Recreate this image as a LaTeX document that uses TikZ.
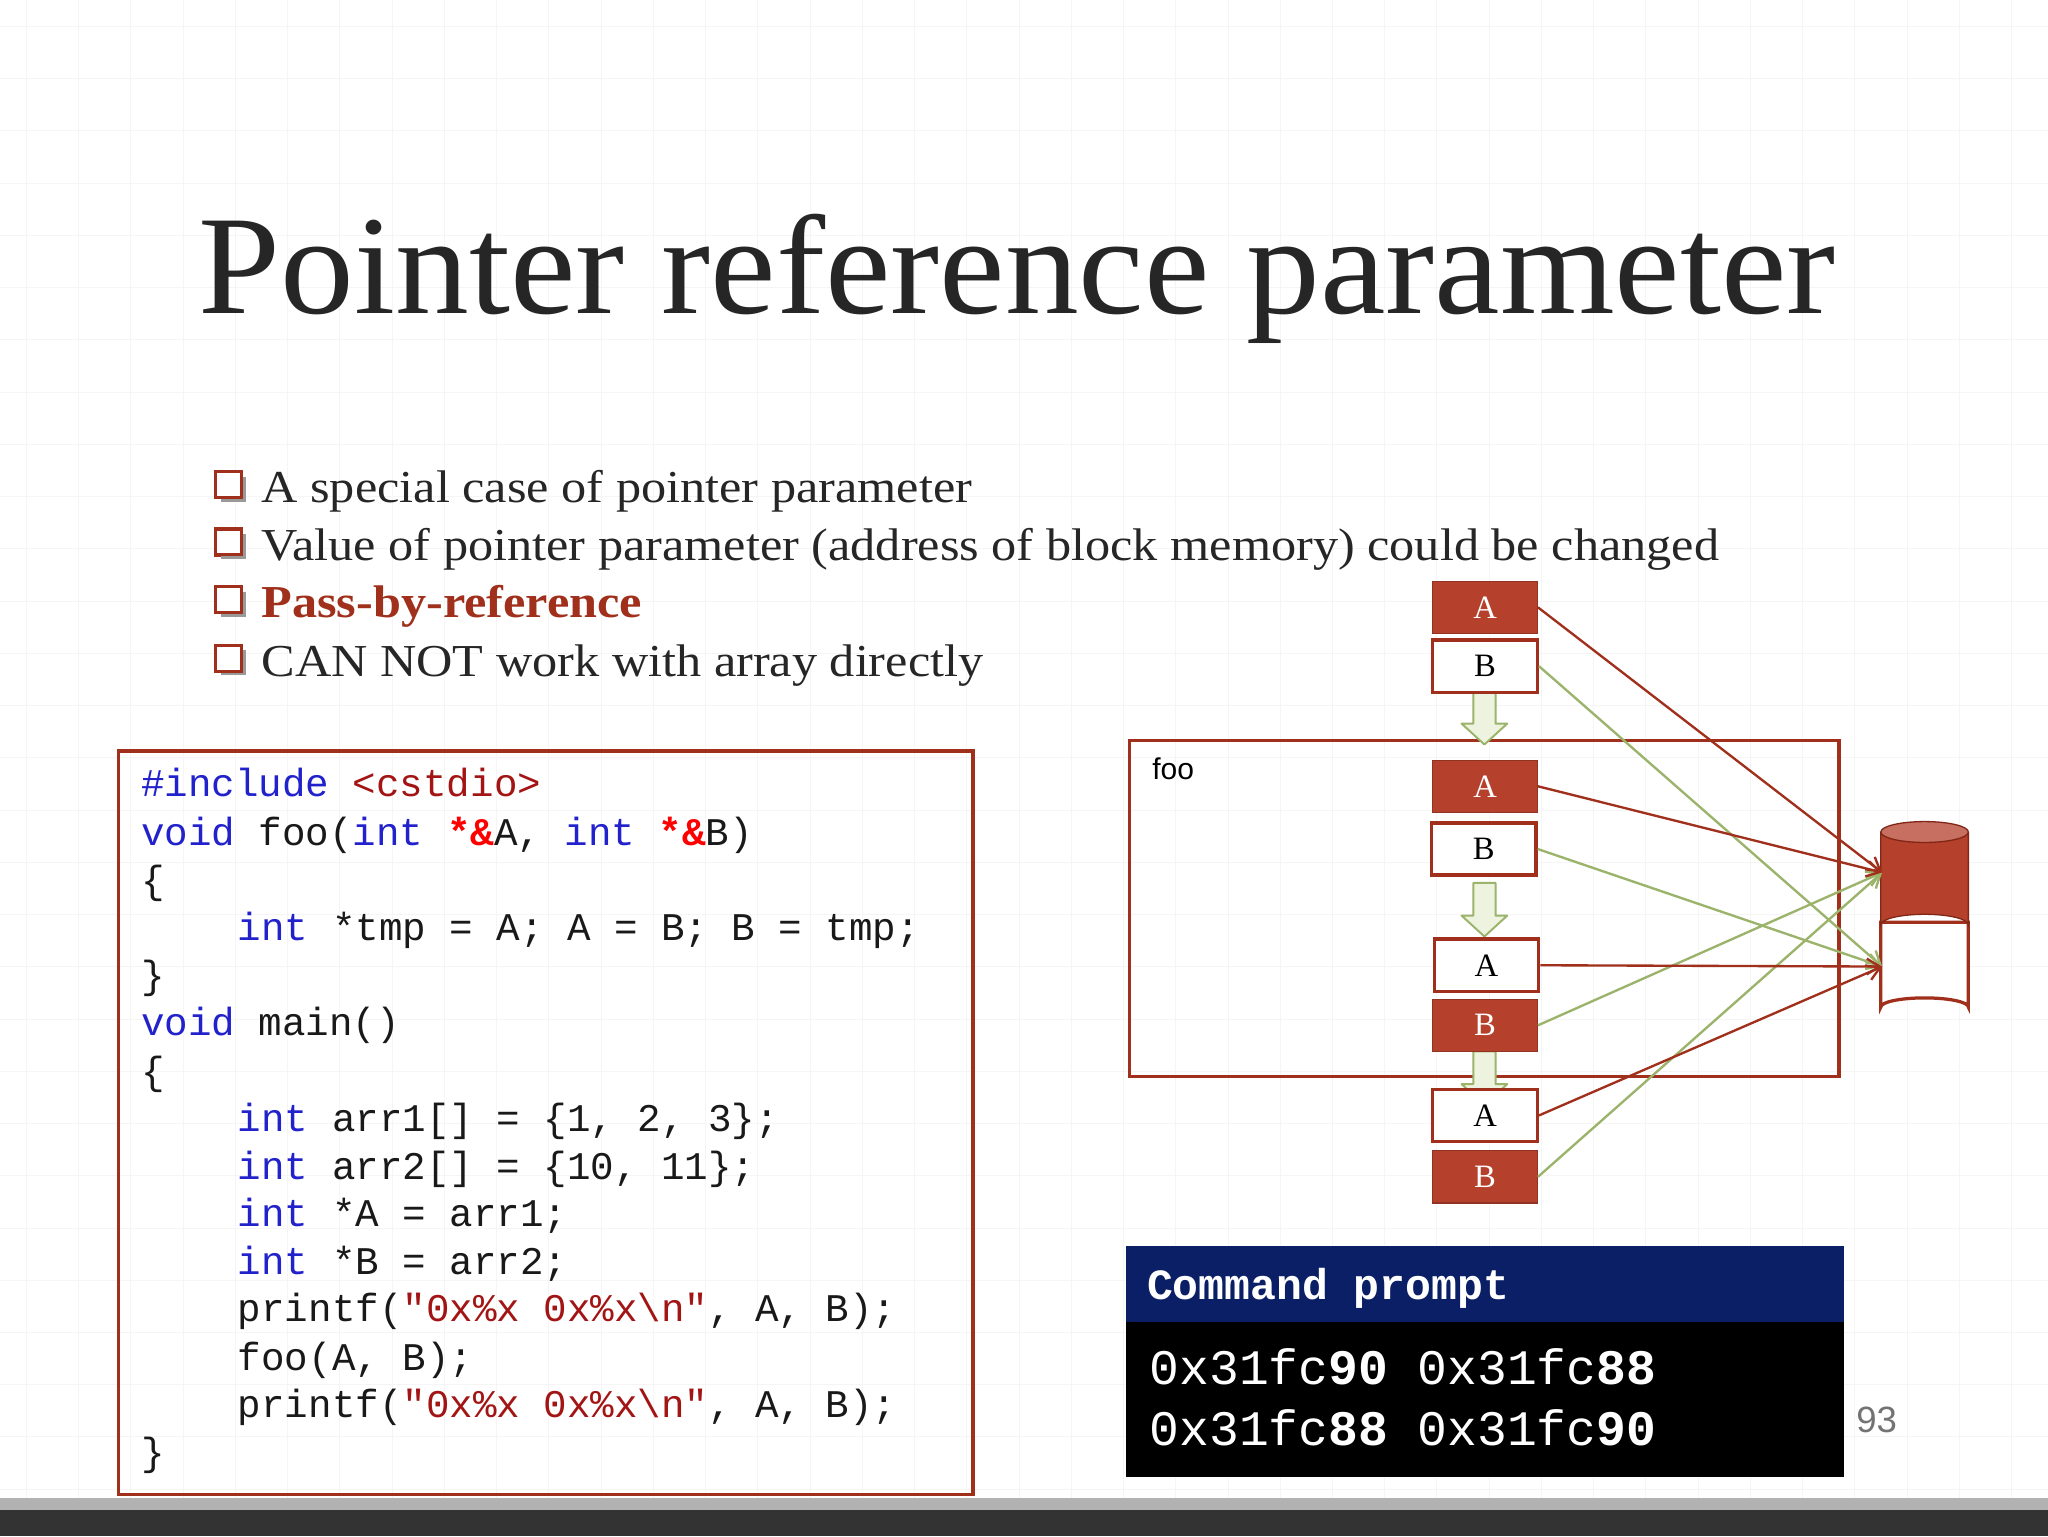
\documentclass[tikz,border=0pt]{standalone}
\usepackage{fontspec}
\setmainfont{Liberation Serif}
\newfontfamily\codefont{Liberation Mono}
\newfontfamily\sansf{Liberation Sans}
\usetikzlibrary{arrows.meta}
\definecolor{dred}{HTML}{A0301C}
\definecolor{bred}{HTML}{B5402C}
\definecolor{kwblue}{HTML}{2222CC}
\definecolor{strred}{HTML}{A31515}
\definecolor{gline}{HTML}{9BB36A}
\definecolor{gfill}{HTML}{EEF3DF}
\definecolor{navy}{HTML}{0B1F66}
\newcommand{\ckw}[1]{\textcolor{kwblue}{#1}}
\newcommand{\cstr}[1]{\textcolor{strred}{#1}}
\newcommand{\cred}[1]{\textcolor{red}{\bfseries #1}}
\newcommand{\wid}[1]{\scalebox{1.1}[1]{#1}}
\begin{document}
\begin{tikzpicture}[x=1pt,y=-1pt,
  code/.style={anchor=base west,inner sep=0pt,font=\codefont\fontsize{30}{31}\selectfont,text=black!90},
  bul/.style={anchor=base west,inner sep=0pt,font=\fontsize{35}{40}\selectfont,text=black!85},
  memw/.style={draw=dred,line width=2.5pt,fill=white,minimum width=80pt,minimum height=40pt,inner sep=0pt,font=\fontsize{25}{26}\selectfont},
  memr/.style={memw,fill=bred,draw=bred!80!black,line width=1pt,text=white},
  redarr/.style={draw=dred,line width=1.8pt,-{Straight Barb[length=10pt,width=12pt]}},
  grnarr/.style={draw=gline,line width=1.8pt,-{Straight Barb[length=10pt,width=12pt]}},
  barrow/.style={draw=gline,fill=gfill,line width=1.5pt,line join=round}]
\useasboundingbox (0,0) rectangle (1568,1176);
\fill[white] (0,0) rectangle (1568,1176);
\foreach \x in {20,60,...,1560} \draw[black!4] (\x,0) -- (\x,1150);
\foreach \y in {20,60,...,1150} \draw[black!4] (0,\y) -- (1568,\y);
\fill[black!30] (0,1147) rectangle (1568,1156);
\fill[black!80] (0,1156) rectangle (1568,1176);
% title
\node[anchor=base west,inner sep=0pt,font=\fontsize{108}{110}\selectfont,text=black!85] (title) at (152,240) {\scalebox{1.045}[1]{Pointer reference parameter}};
% bullets
\foreach \yy in {385,429,473,518}{
  \draw[dred,line width=2.5pt,fill=white] (165,\yy-24) rectangle (185,\yy-4);
  \draw[black!40,line width=2pt] (187,\yy-20) -- (187,\yy-2) -- (169,\yy-2);
}
\node[bul] (t1) at (200,385) {\wid{A special case of pointer parameter}};
\node[bul] (t2) at (200,429) {\wid{Value of pointer parameter (address of block memory) could be changed}};
\node[bul,text=dred,font=\bfseries\fontsize{35}{40}\selectfont] (t3) at (200,473) {\wid{Pass-by-reference}};
\node[bul] (t4) at (200,518) {\wid{CAN NOT work with array directly}};
% code box
\draw[dred,line width=2.5pt] (91,575) rectangle (745,1144);
\node[code] (c1) at (108,610) {\ckw{\#include} \cstr{<cstdio>}};
\node[code] (c2) at (108,647) {\ckw{void} foo(\ckw{int} \cred{*\&}A, \ckw{int} \cred{*\&}B)};
\node[code] (c3) at (108,684) {\{};
\node[code] (c4) at (182,720) {\ckw{int} *tmp = A; A = B; B = tmp;};
\node[code] (c5) at (108,757) {\}};
\node[code] (c6) at (108,793) {\ckw{void} main()};
\node[code] (c7) at (108,830) {\{};
\node[code] (c8) at (182,866) {\ckw{int} arr1[] = \{1, 2, 3\};};
\node[code] (c9) at (182,903) {\ckw{int} arr2[] = \{10, 11\};};
\node[code] (c10) at (182,939) {\ckw{int} *A = arr1;};
\node[code] (c11) at (182,976) {\ckw{int} *B = arr2;};
\node[code] (c12) at (182,1012) {printf(\cstr{"0x\%x 0x\%x\textbackslash n"}, A, B);};
\node[code] (c13) at (182,1049) {foo(A, B);};
\node[code] (c14) at (182,1085) {printf(\cstr{"0x\%x 0x\%x\textbackslash n"}, A, B);};
\node[code] (c15) at (108,1122) {\}};
% foo box
\draw[dred,line width=2.5pt] (865,567) rectangle (1408,824);
\node[anchor=north west,inner sep=0pt,font=\sansf\fontsize{23}{24}\selectfont] (foo) at (882,580) {foo};
% block arrows
\foreach \yt/\yb in {530/570,676/717,805/846}{
  \draw[barrow] (1128,\yt) -- (1145,\yt) -- (1145,\yb-16) -- (1154,\yb-16) -- (1136.5,\yb) -- (1119,\yb-16) -- (1128,\yb-16) -- cycle;
}
% memory boxes
\node[memr] (a1) at (1137,465) {A};
\node[memw] (b1) at (1137,510) {B};
\node[memr] (a2) at (1137,602) {A};
\node[memw] (b2) at (1136,650) {B};
\node[memw] (a3) at (1138,739) {A};
\node[memr] (b3) at (1137,785) {B};
\node[memw] (a4) at (1137,854) {A};
\node[memr] (b4) at (1137,901) {B};
% cylinder
\draw[dred,line width=2.5pt,fill=white] (1440,706) -- (1440,771) arc[start angle=180,end angle=360,x radius=33.5,y radius=7] -- (1507,706) -- cycle;
\fill[bred] (1440,637) -- (1440,708) arc[start angle=180,end angle=360,x radius=33.5,y radius=8] -- (1507,637) -- cycle;
\draw[dred!80!black,line width=1pt] (1440,637) -- (1440,708) arc[start angle=180,end angle=360,x radius=33.5,y radius=8] -- (1507,637);
\fill[bred!75!white,draw=dred!80!black,line width=1pt] (1473.5,637) ellipse[x radius=33.5,y radius=8];
\coordinate (cu) at (1441,668);
\coordinate (cl) at (1441,740);
\draw[grnarr] (b1.east) -- (cl);
\draw[grnarr] (b2.east) -- (cl);
\draw[grnarr] (b3.east) -- (cu);
\draw[grnarr] (b4.east) -- (cu);
\draw[redarr] (a1.east) -- (cu);
\draw[redarr] (a2.east) -- (cu);
\draw[redarr] (a3.east) -- (cl);
\draw[redarr] (a4.east) -- (cl);
% command prompt
\fill[navy] (862,954) rectangle (1412,1012);
\fill[black] (862,1012) rectangle (1412,1131);
\node[anchor=base west,inner sep=0pt,text=white,font=\codefont\bfseries\fontsize{33}{34}\selectfont] (cp) at (878,995) {Command prompt};
\node[anchor=base west,inner sep=0pt,text=white,font=\codefont\fontsize{38}{39}\selectfont] (o1) at (880,1060) {0x31fc\textbf{90} 0x31fc\textbf{88}};
\node[anchor=base west,inner sep=0pt,text=white,font=\codefont\fontsize{38}{39}\selectfont] (o2) at (880,1107) {0x31fc\textbf{88} 0x31fc\textbf{90}};
\node[anchor=base west,inner sep=0pt,text=black!55,font=\sansf\fontsize{28}{30}\selectfont] (pg) at (1421,1097) {93};
\end{tikzpicture}
\end{document}
